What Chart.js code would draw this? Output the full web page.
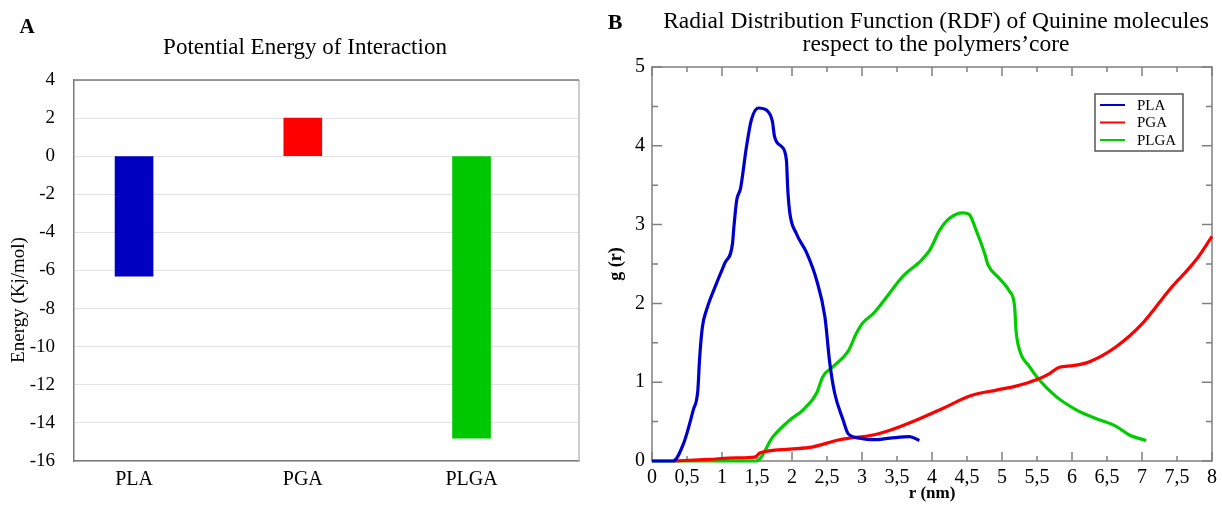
<!DOCTYPE html>
<html>
<head>
<meta charset="utf-8">
<script src="https://cdn.jsdelivr.net/npm/chart.js@4.4.1/dist/chart.umd.min.js"></script>
<style>
  html, body { margin: 0; padding: 0; background: #fff; }
  #wrap { position: relative; width: 1222px; height: 506px; }
  canvas { position: absolute; top: 0; }
  #cA { left: 0; }
  #cB { left: 600px; }
</style>
</head>
<body>
<div id="wrap">
  <canvas id="cA" width="600" height="506"></canvas>
  <canvas id="cB" width="622" height="506"></canvas>
</div>
<script>
// ---------- Panel A data ----------
const categories = ['PLA', 'PGA', 'PLGA'];
const energy = [-6.3, 2.0, -14.8];
const barColors = ['#0000c0', '#ff0000', '#00c800'];
const energyTicks = [4, 2, 0, -2, -4, -6, -8, -10, -12, -14, -16];

// ---------- Panel B data ----------
const seriesNames = ['PLA', 'PGA', 'PLGA'];
const seriesColors = ['#0000cc', '#ff0000', '#00cc00'];
const rPLA = [0, 0.30, 0.45, 0.59, 0.655, 0.68, 0.72, 0.78, 0.92, 1.04, 1.15, 1.17, 1.21, 1.265, 1.35, 1.42, 1.52, 1.64, 1.72, 1.75, 1.85, 1.92, 1.94, 1.97, 2.06, 2.21, 2.35, 2.47, 2.54, 2.61, 2.73, 2.80, 2.97, 3.16, 3.40, 3.68, 3.82];
const gPLA = [0, 0, 0.22, 0.65, 0.90, 1.30, 1.70, 1.92, 2.25, 2.51, 2.76, 2.97, 3.31, 3.46, 3.99, 4.33, 4.48, 4.45, 4.31, 4.12, 3.99, 3.82, 3.44, 3.14, 2.89, 2.64, 2.30, 1.83, 1.24, 0.86, 0.52, 0.35, 0.29, 0.27, 0.29, 0.31, 0.26];
const rPGA = [0.30, 0.8, 1.2, 1.47, 1.54, 1.97, 2.30, 2.68, 3.16, 3.40, 3.78, 4.16, 4.56, 4.92, 5.20, 5.49, 5.68, 5.82, 6.01, 6.25, 6.63, 7.01, 7.39, 7.77, 8.0];
const gPGA = [0, 0.02, 0.04, 0.05, 0.10, 0.15, 0.18, 0.27, 0.33, 0.39, 0.52, 0.67, 0.83, 0.90, 0.95, 1.03, 1.11, 1.19, 1.21, 1.26, 1.45, 1.75, 2.17, 2.55, 2.85];
const rPLGA = [0, 1.49, 1.73, 1.97, 2.16, 2.35, 2.44, 2.59, 2.80, 2.92, 3.01, 3.16, 3.30, 3.58, 3.85, 3.97, 4.11, 4.25, 4.44, 4.53, 4.63, 4.75, 4.80, 4.96, 5.11, 5.18, 5.20, 5.25, 5.39, 5.53, 5.77, 6.06, 6.34, 6.63, 6.82, 7.06];
const gPLGA = [0, 0, 0.31, 0.52, 0.65, 0.86, 1.07, 1.20, 1.39, 1.62, 1.75, 1.87, 2.02, 2.34, 2.55, 2.68, 2.93, 3.08, 3.15, 3.13, 2.93, 2.64, 2.49, 2.32, 2.15, 1.96, 1.66, 1.41, 1.20, 1.03, 0.82, 0.65, 0.54, 0.44, 0.33, 0.26];
const rdfXTicks = [0, 0.5, 1, 1.5, 2, 2.5, 3, 3.5, 4, 4.5, 5, 5.5, 6, 6.5, 7, 7.5, 8];
const rdfYTicks = [0, 1, 2, 3, 4, 5];

const SERIF = "'Liberation Serif', 'DejaVu Serif', serif";

// Generic text plugin (titles / panel letters)
const textPlugin = {
  id: 'panelText',
  afterDraw(chart, args, opts) {
    const ctx = chart.ctx;
    (opts.items || []).forEach(it => {
      ctx.save();
      ctx.fillStyle = '#000';
      ctx.textBaseline = 'middle';
      ctx.font = it.font;
      ctx.textAlign = it.align || 'center';
      ctx.translate(it.x, it.y);
      if (it.rot) ctx.rotate(it.rot);
      ctx.fillText(it.text, 0, 0);
      ctx.restore();
    });
  }
};

// Frame for panel A
const frameA = {
  id: 'frameA',
  afterDraw(chart) {
    const {ctx, chartArea: a} = chart;
    ctx.save();
    ctx.lineWidth = 1.5;
    ctx.strokeStyle = '#bdbdbd';
    ctx.beginPath(); ctx.moveTo(a.right, a.top); ctx.lineTo(a.right, a.bottom); ctx.stroke();
    ctx.strokeStyle = '#7a7a7a';
    ctx.beginPath(); ctx.moveTo(a.left, a.top); ctx.lineTo(a.right, a.top); ctx.stroke();
    ctx.restore();
  }
};

new Chart(document.getElementById('cA'), {
  type: 'bar',
  data: {
    datasets: [{
      label: 'Energy',
      data: categories.map((c, i) => ({x: i, y: energy[i]})),
      backgroundColor: barColors,
      borderWidth: 0,
      barThickness: 38
    }]
  },
  options: {
    responsive: false,
    animation: false,
    layout: {padding: {top: 80, right: 21, bottom: 0, left: 0}},
    plugins: {
      legend: {display: false},
      tooltip: {enabled: false},
      panelText: {items: [
        {text: 'A', x: 27, y: 28, font: "bold 21px " + SERIF},
        {text: 'Potential Energy of Interaction', x: 305, y: 48, font: "23px " + SERIF},
        {text: 'Energy (Kj/mol)', x: 19, y: 300, rot: -Math.PI / 2, font: "19px " + SERIF}
      ]}
    },
    scales: {
      x: {
        type: 'linear', min: -0.356, max: 2.637, offset: false,
        afterBuildTicks: s => { s.ticks = categories.map((c, i) => ({value: i})); },
        ticks: {callback: v => categories[v], color: '#000', font: {family: SERIF, size: 20}, padding: 7, autoSkip: false, maxRotation: 0},
        grid: {display: false, drawTicks: false, offset: false},
        border: {display: true, color: '#7a7a7a', width: 1.5},
        afterFit: s => { s.height = 45; }
      },
      y: {
        min: -16, max: 4,
        afterBuildTicks: s => { s.ticks = energyTicks.map(v => ({value: v})); },
        ticks: {color: '#000', font: {family: SERIF, size: 19}, padding: 19},
        grid: {color: '#e2e2e2', lineWidth: 1, drawTicks: false},
        border: {display: true, color: '#7a7a7a', width: 1.5},
        afterFit: s => { s.width = 74; }
      }
    }
  },
  plugins: [frameA, textPlugin]
});

// Panel B: frame + inward ticks
const frameB = {
  id: 'frameB',
  beforeDatasetsDraw(chart) {
    const {ctx, chartArea: a, scales} = chart;
    ctx.save();
    ctx.strokeStyle = '#808080';
    ctx.lineWidth = 1.5;
    ctx.strokeRect(a.left, a.top, a.right - a.left, a.bottom - a.top);
    for (let v = 0; v <= 8.001; v += 0.5) {
      const px = scales.x.getPixelForValue(v);
      const len = Math.abs(v - Math.round(v)) < 1e-6 ? 9 : 5;
      ctx.beginPath();
      ctx.moveTo(px, a.bottom); ctx.lineTo(px, a.bottom - len);
      ctx.moveTo(px, a.top); ctx.lineTo(px, a.top + len);
      ctx.stroke();
    }
    for (let v = 0; v <= 5.001; v += 0.5) {
      const py = scales.y.getPixelForValue(v);
      const len = Math.abs(v - Math.round(v)) < 1e-6 ? 10 : 6;
      ctx.beginPath();
      ctx.moveTo(a.left, py); ctx.lineTo(a.left + len, py);
      ctx.moveTo(a.right, py); ctx.lineTo(a.right - len, py);
      ctx.stroke();
    }
    ctx.restore();
  }
};

// Panel B legend (boxed)
const legendB = {
  id: 'legendB',
  afterDraw(chart) {
    const ctx = chart.ctx;
    const x0 = 495, y0 = 94, w = 88, h = 57;
    ctx.save();
    ctx.fillStyle = '#fff';
    ctx.fillRect(x0, y0, w, h);
    ctx.strokeStyle = '#555';
    ctx.lineWidth = 1.5;
    ctx.strokeRect(x0, y0, w, h);
    ctx.font = "15px " + SERIF;
    ctx.textBaseline = 'middle';
    ctx.textAlign = 'left';
    chart.data.datasets.forEach((ds, i) => {
      const y = y0 + 11 + i * 17.5;
      ctx.strokeStyle = ds.borderColor;
      ctx.lineWidth = 2;
      ctx.beginPath(); ctx.moveTo(x0 + 5, y); ctx.lineTo(x0 + 30, y); ctx.stroke();
      ctx.fillStyle = '#000';
      ctx.fillText(ds.label, x0 + 42, y + 1);
    });
    ctx.restore();
  }
};

const rs = [rPLA, rPGA, rPLGA];
const gs = [gPLA, gPGA, gPLGA];

new Chart(document.getElementById('cB'), {
  type: 'scatter',
  data: {
    datasets: seriesNames.map((n, k) => ({
      label: n,
      data: rs[k].map((r, i) => ({x: r, y: gs[k][i]})),
      showLine: true,
      borderColor: seriesColors[k],
      backgroundColor: seriesColors[k],
      borderWidth: 3.2,
      pointRadius: 0,
      cubicInterpolationMode: 'monotone',
      clip: 4
    }))
  },
  options: {
    responsive: false,
    animation: false,
    layout: {padding: {top: 67, right: 9, bottom: 0, left: 0}},
    plugins: {
      legend: {display: false},
      tooltip: {enabled: false},
      panelText: {items: [
        {text: 'B', x: 15, y: 23, font: "bold 22px " + SERIF},
        {text: 'Radial Distribution Function (RDF) of Quinine molecules', x: 336, y: 22, font: "23.5px " + SERIF},
        {text: 'respect to the polymers\u2019core', x: 336, y: 45, font: "23.5px " + SERIF}
      ]}
    },
    scales: {
      x: {
        type: 'linear', min: 0, max: 8,
        afterBuildTicks: s => { s.ticks = rdfXTicks.map(v => ({value: v})); },
        ticks: {callback: v => String(v).replace('.', ','), color: '#000', font: {family: SERIF, size: 20}, padding: 5, autoSkip: false, maxRotation: 0},
        grid: {display: false, drawTicks: false},
        border: {display: false},
        title: {display: true, text: 'r (nm)', color: '#000', font: {family: SERIF, size: 17, weight: 'bold'}, padding: {top: 0, bottom: 2}},
        afterFit: s => { s.height = 45; }
      },
      y: {
        min: 0, max: 5,
        afterBuildTicks: s => { s.ticks = rdfYTicks.map(v => ({value: v})); },
        ticks: {color: '#000', font: {family: SERIF, size: 20}, padding: 7},
        grid: {display: false, drawTicks: false},
        border: {display: false},
        title: {display: true, text: 'g (r)', color: '#000', font: {family: SERIF, size: 18, weight: 'bold'}, padding: {top: 6, bottom: 0}},
        afterFit: s => { s.width = 52; }
      }
    }
  },
  plugins: [frameB, legendB, textPlugin]
});
</script>
</body>
</html>
